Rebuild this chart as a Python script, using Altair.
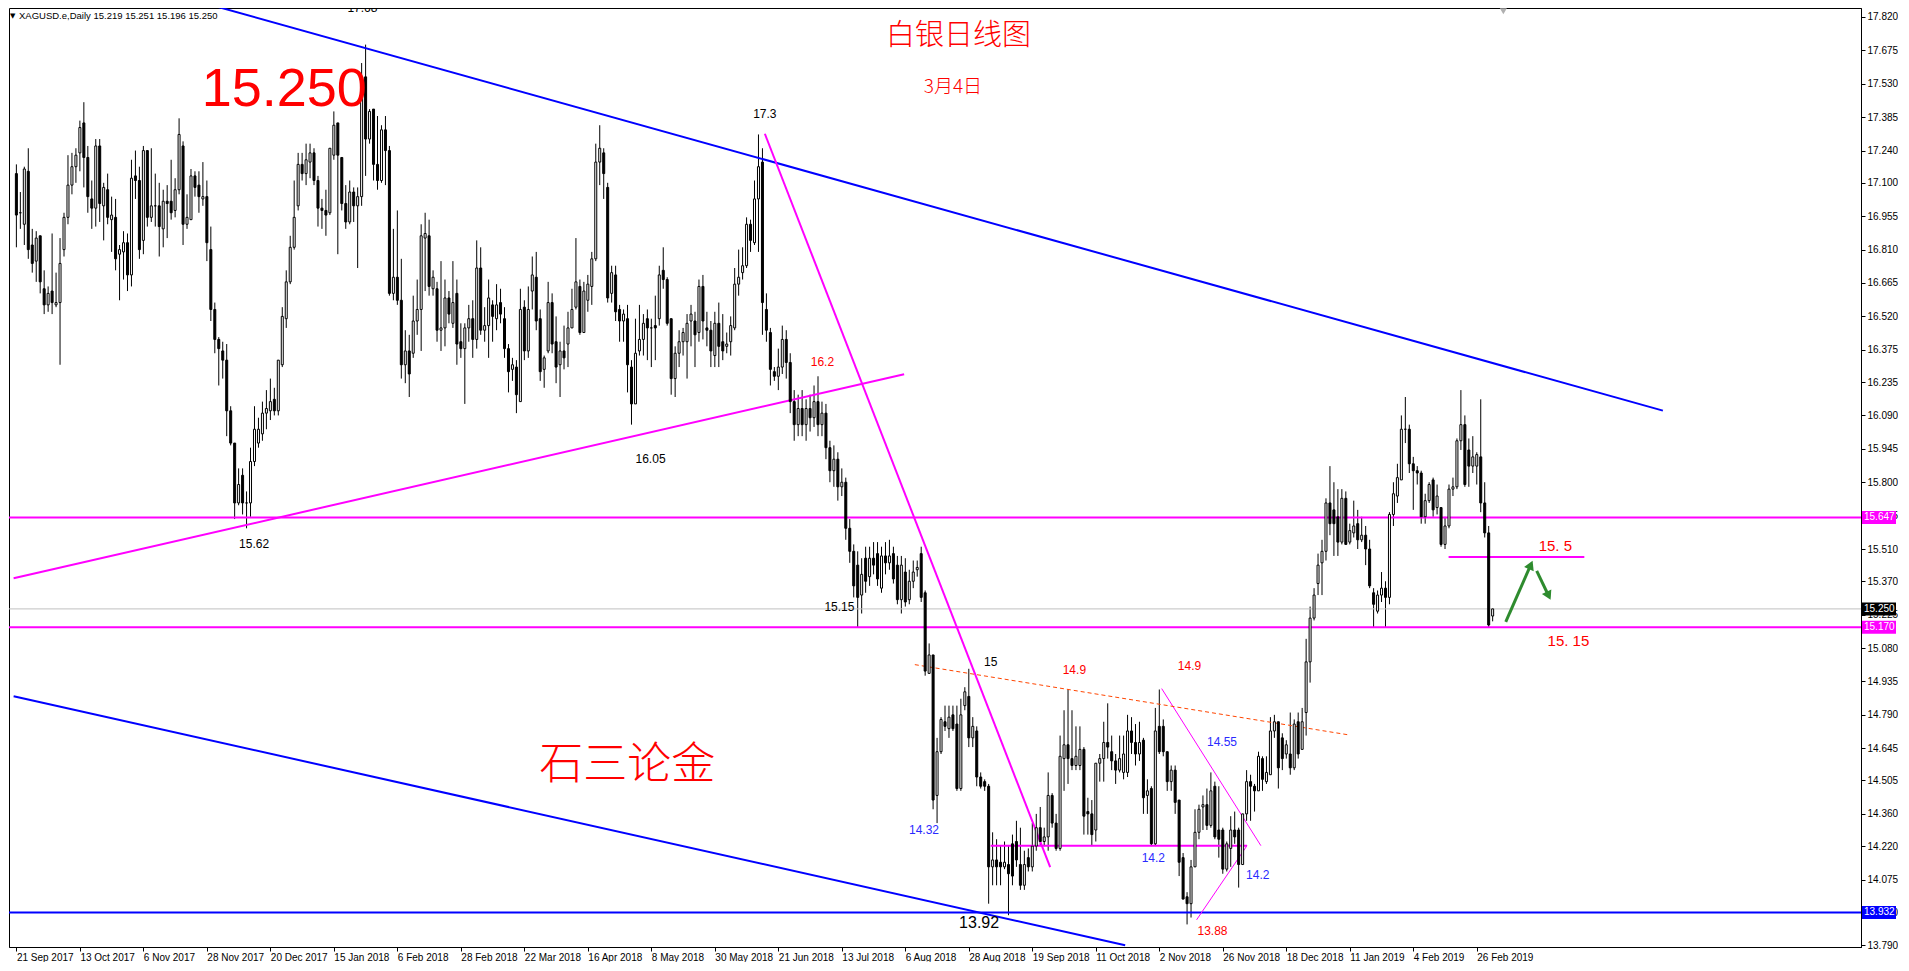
import altair as alt
import pandas as pd

# ---------------- candle data (XAGUSD daily) ----------------
opens = [
    17.14,16.97,16.92,17.15,16.83,16.76,16.87,16.64,16.57,16.63,
    16.57,16.58,16.81,16.95,17.09,17.17,17.23,17.36,17.21,17.03,
    16.99,17.26,17.00,17.07,16.94,16.95,16.79,16.80,16.84,16.70,
    17.13,17.11,16.85,17.24,16.95,17.00,17.00,16.90,17.02,17.02,
    16.98,17.07,17.26,16.92,16.94,17.13,17.09,17.03,17.04,16.81,
    16.55,16.42,16.37,16.33,16.11,15.97,15.71,15.83,15.71,15.71,
    15.89,15.97,16.01,16.10,16.11,16.16,16.11,16.31,16.51,16.67,
    16.82,17.00,17.18,17.14,17.19,17.23,17.11,16.99,16.98,16.97,
    17.22,17.36,17.21,17.01,16.93,17.06,17.00,17.04,17.56,17.29,
    17.42,17.18,17.11,17.33,17.24,16.62,16.69,16.59,16.31,16.37,
    16.36,16.50,16.55,16.86,16.87,16.64,16.64,16.46,16.47,16.60,
    16.49,16.62,16.41,16.38,16.47,16.51,16.42,16.73,16.46,16.48,
    16.57,16.51,16.58,16.51,16.38,16.29,16.30,16.15,16.56,16.37,
    16.63,16.69,16.51,16.29,16.37,16.58,16.41,16.31,16.37,16.40,
    16.47,16.56,16.65,16.45,16.59,16.65,16.77,17.19,17.23,17.08,
    16.62,16.70,16.55,16.50,16.51,16.30,16.14,16.37,16.42,16.51,
    16.47,16.48,16.51,16.72,16.68,16.51,16.25,16.36,16.41,16.41,
    16.50,16.50,16.45,16.65,16.47,16.46,16.35,16.49,16.41,16.39,
    16.41,16.47,16.66,16.71,16.74,16.92,16.84,17.03,17.19,16.55,
    16.45,16.28,16.26,16.30,16.42,16.32,16.15,16.05,16.12,16.05,
    16.12,16.08,16.15,16.05,16.10,15.95,15.85,15.90,15.78,15.80,
    15.60,15.50,15.44,15.31,15.47,15.39,15.47,15.49,15.34,15.48,
    15.45,15.49,15.44,15.29,15.41,15.29,15.37,15.42,15.49,15.32,
    14.97,15.05,14.44,14.63,14.76,14.73,14.79,14.75,14.47,14.83,
    14.87,14.69,14.72,14.52,14.50,14.48,14.13,14.16,14.15,14.13,
    14.14,14.23,14.24,14.14,14.05,14.17,14.13,14.22,14.30,14.24,
    14.26,14.44,14.32,14.21,14.60,14.66,14.60,14.57,14.57,14.64,
    14.37,14.36,14.29,14.58,14.60,14.67,14.63,14.59,14.55,14.54,
    14.54,14.72,14.67,14.62,14.68,14.44,14.47,14.23,14.74,14.74,
    14.63,14.50,14.55,14.42,14.17,14.00,13.97,14.13,14.28,14.39,
    14.40,14.31,14.48,14.29,14.29,14.12,14.21,14.29,14.29,14.14,
    14.36,14.50,14.48,14.46,14.60,14.50,14.53,14.72,14.76,14.69,
    14.62,14.62,14.56,14.76,14.64,14.80,15.02,15.21,15.36,15.45,
    15.50,15.71,15.68,15.65,15.54,15.73,15.54,15.58,15.62,15.55,
    15.57,15.51,15.32,15.24,15.31,15.34,15.30,15.66,15.74,15.81,
    16.03,16.03,15.88,15.85,15.84,15.65,15.72,15.81,15.69,15.69,
    15.53,15.61,15.77,15.78,15.98,16.05,15.94,15.87,15.87,15.91,
    15.71,15.58,15.219,
]
highs = [
    17.18,17.06,17.17,17.25,16.90,16.89,16.87,16.72,16.65,16.88,
    16.71,16.86,16.97,17.22,17.23,17.25,17.37,17.45,17.26,17.11,
    17.29,17.29,17.10,17.14,17.04,17.03,16.83,16.89,16.88,17.20,
    17.24,17.17,17.26,17.24,17.25,17.14,17.10,17.07,17.09,17.20,
    17.12,17.38,17.28,17.05,17.16,17.15,17.15,17.19,17.11,16.91,
    16.58,16.43,16.41,16.40,16.13,15.97,15.86,15.86,15.76,15.95,
    16.13,16.08,16.15,16.20,16.25,16.21,16.33,16.56,16.72,16.87,
    17.11,17.23,17.23,17.27,17.27,17.25,17.13,17.03,17.07,17.25,
    17.41,17.36,17.21,17.09,17.11,17.08,17.08,17.62,17.70,17.42,
    17.42,17.39,17.35,17.39,17.26,16.90,16.98,16.77,16.46,16.44,
    16.61,16.68,16.92,16.97,16.94,16.72,16.67,16.76,16.68,16.63,
    16.76,16.68,16.49,16.49,16.57,16.59,16.85,16.82,16.56,16.68,
    16.59,16.66,16.64,16.56,16.40,16.34,16.33,16.64,16.59,16.65,
    16.78,16.80,16.55,16.35,16.67,16.62,16.52,16.41,16.48,16.54,
    16.64,16.86,16.68,16.67,16.70,16.80,17.27,17.35,17.25,17.10,
    16.74,16.74,16.57,16.55,16.57,16.33,16.51,16.57,16.53,16.55,
    16.51,16.61,16.74,16.82,16.69,16.51,16.39,16.46,16.47,16.53,
    16.57,16.54,16.68,16.70,16.54,16.50,16.54,16.58,16.53,16.45,
    16.52,16.73,16.81,16.82,16.95,16.94,17.11,17.31,17.25,16.62,
    16.47,16.30,16.38,16.48,16.46,16.36,16.20,16.18,16.20,16.16,
    16.18,16.22,16.26,16.15,16.14,15.98,15.96,15.93,15.86,15.82,
    15.64,15.53,15.50,15.47,15.52,15.52,15.54,15.54,15.52,15.54,
    15.55,15.52,15.48,15.48,15.47,15.42,15.46,15.46,15.52,15.33,
    15.10,15.05,14.69,14.78,14.83,14.83,14.83,14.83,14.86,14.91,
    14.99,14.78,14.74,14.54,14.51,14.49,14.28,14.25,14.22,14.24,
    14.22,14.27,14.33,14.30,14.20,14.21,14.32,14.36,14.39,14.30,
    14.54,14.45,14.36,14.70,14.81,14.90,14.81,14.74,14.74,14.65,
    14.43,14.42,14.58,14.62,14.76,14.84,14.70,14.62,14.70,14.70,
    14.79,14.78,14.75,14.76,14.69,14.51,14.48,14.82,14.90,14.77,
    14.63,14.57,14.57,14.42,14.19,14.02,14.16,14.38,14.40,14.44,
    14.47,14.54,14.50,14.48,14.30,14.24,14.35,14.37,14.30,14.36,
    14.55,14.53,14.49,14.63,14.61,14.61,14.78,14.79,14.76,14.71,
    14.68,14.80,14.77,14.80,14.82,15.12,15.26,15.34,15.49,15.55,
    15.73,15.87,15.80,15.77,15.77,15.76,15.62,15.72,15.68,15.65,
    15.61,15.55,15.34,15.33,15.41,15.37,15.67,15.80,15.88,16.09,
    16.17,16.05,15.91,15.87,15.85,15.75,15.80,15.82,15.79,15.69,
    15.65,15.79,15.82,15.99,16.20,16.09,15.99,16.00,15.93,16.16,
    15.80,15.61,15.251,
]
lows = [
    16.82,16.90,16.83,16.77,16.71,16.67,16.62,16.53,16.54,16.53,
    16.56,16.31,16.78,16.92,17.05,17.10,17.15,17.08,16.97,16.90,
    16.91,16.93,16.85,16.92,16.80,16.72,16.59,16.68,16.63,16.65,
    17.03,16.77,16.79,16.91,16.93,16.91,16.78,16.82,16.86,16.94,
    16.95,17.05,16.83,16.90,16.94,17.04,16.97,17.00,16.76,16.50,
    16.36,16.22,16.25,16.00,15.96,15.64,15.70,15.66,15.60,15.65,
    15.87,15.95,15.98,16.03,16.07,16.09,16.09,16.30,16.47,16.66,
    16.81,16.98,17.11,17.09,17.12,17.09,16.91,16.90,16.87,16.96,
    17.20,16.79,16.98,16.90,16.92,16.93,16.73,17.00,17.13,17.27,
    17.11,17.07,17.10,17.09,16.61,16.59,16.57,16.25,16.23,16.17,
    16.34,16.44,16.37,16.63,16.61,16.61,16.41,16.37,16.39,16.49,
    16.47,16.31,16.34,16.14,16.41,16.34,16.38,16.44,16.41,16.34,
    16.41,16.46,16.49,16.34,16.19,16.24,16.10,16.15,16.33,16.34,
    16.55,16.46,16.24,16.21,16.36,16.36,16.23,16.17,16.29,16.30,
    16.47,16.55,16.44,16.45,16.54,16.57,16.76,17.09,17.03,16.58,
    16.58,16.50,16.41,16.41,16.19,16.05,16.14,16.35,16.35,16.33,
    16.30,16.33,16.48,16.64,16.48,16.18,16.17,16.30,16.35,16.25,
    16.39,16.30,16.41,16.42,16.39,16.30,16.30,16.30,16.33,16.36,
    16.35,16.46,16.61,16.68,16.73,16.80,16.83,16.80,16.44,16.41,
    16.22,16.24,16.20,16.27,16.25,16.10,15.98,16.00,16.00,15.98,
    16.02,16.04,16.00,16.00,15.90,15.80,15.78,15.72,15.74,15.55,
    15.45,15.30,15.17,15.23,15.32,15.35,15.40,15.35,15.32,15.40,
    15.42,15.36,15.27,15.23,15.26,15.27,15.34,15.39,15.28,14.96,
    14.97,14.38,14.32,14.62,14.72,14.69,14.72,14.46,14.46,14.81,
    14.65,14.65,14.48,14.47,14.46,13.97,14.05,14.05,14.05,14.12,
    13.92,14.05,14.13,14.03,14.03,14.11,14.11,14.20,14.22,14.22,
    14.20,14.30,14.20,14.20,14.46,14.49,14.55,14.55,14.55,14.27,
    14.27,14.22,14.24,14.50,14.50,14.60,14.55,14.49,14.54,14.51,
    14.52,14.62,14.57,14.59,14.36,14.36,14.22,14.22,14.62,14.61,
    14.46,14.46,14.36,14.09,13.99,13.88,13.91,14.13,14.25,14.29,
    14.29,14.30,14.25,14.17,14.10,14.11,14.13,14.23,14.04,14.14,
    14.33,14.33,14.37,14.46,14.46,14.49,14.53,14.69,14.47,14.55,
    14.60,14.53,14.55,14.60,14.64,14.70,14.93,15.20,15.31,15.31,
    15.46,15.57,15.48,15.48,15.53,15.53,15.53,15.56,15.51,15.54,
    15.44,15.34,15.17,15.23,15.28,15.17,15.27,15.61,15.71,15.81,
    15.97,15.84,15.68,15.79,15.62,15.62,15.71,15.65,15.66,15.52,
    15.51,15.60,15.74,15.77,15.94,15.78,15.78,15.84,15.79,15.67,
    15.56,15.17,15.196,
]
closes = [
    16.96,16.97,17.16,16.81,16.75,16.86,16.67,16.57,16.62,16.58,
    16.58,16.75,16.95,17.09,17.17,17.22,17.34,17.21,17.04,16.99,
    17.26,17.01,17.08,16.95,16.96,16.77,16.81,16.84,16.70,17.12,
    17.11,16.81,17.24,16.95,17.00,17.00,16.91,17.02,17.01,16.97,
    17.07,17.31,16.92,16.95,17.13,17.08,17.04,17.04,16.84,16.55,
    16.42,16.38,16.33,16.11,15.97,15.71,15.79,15.71,15.71,15.89,
    16.03,16.03,16.10,16.12,16.15,16.11,16.33,16.52,16.67,16.82,
    16.95,17.18,17.14,17.20,17.23,17.11,16.99,16.98,16.96,17.25,
    17.35,17.22,17.01,16.93,17.06,17.00,17.04,17.56,17.29,17.41,
    17.18,17.11,17.33,17.24,16.62,16.69,16.59,16.31,16.37,16.27,
    16.50,16.55,16.87,16.88,16.65,16.69,16.46,16.47,16.60,16.53,
    16.58,16.40,16.38,16.47,16.51,16.42,16.73,16.46,16.48,16.60,
    16.52,16.57,16.53,16.38,16.28,16.31,16.18,16.55,16.37,16.55,
    16.70,16.50,16.28,16.34,16.58,16.40,16.30,16.37,16.34,16.47,
    16.55,16.67,16.45,16.63,16.66,16.77,17.19,17.25,17.14,16.60,
    16.71,16.54,16.50,16.53,16.31,16.14,16.36,16.42,16.49,16.47,
    16.47,16.47,16.70,16.68,16.49,16.25,16.36,16.41,16.45,16.49,
    16.53,16.44,16.65,16.50,16.46,16.37,16.49,16.39,16.37,16.40,
    16.48,16.66,16.69,16.74,16.92,16.85,17.03,17.17,16.58,16.46,
    16.29,16.26,16.30,16.42,16.32,16.15,16.05,16.12,16.05,16.12,
    16.08,16.15,16.05,16.10,15.95,15.85,15.90,15.78,15.80,15.60,
    15.50,15.35,15.30,15.40,15.37,15.47,15.44,15.38,15.48,15.45,
    15.48,15.38,15.29,15.44,15.28,15.37,15.41,15.43,15.30,14.98,
    15.05,14.42,14.63,14.77,14.74,14.78,14.73,14.47,14.79,14.89,
    14.69,14.74,14.52,14.48,14.48,14.13,14.16,14.13,14.13,14.15,
    14.10,14.09,14.16,14.05,14.14,14.13,14.22,14.30,14.24,14.26,
    14.44,14.32,14.21,14.61,14.66,14.60,14.57,14.61,14.64,14.35,
    14.36,14.27,14.58,14.60,14.67,14.65,14.59,14.55,14.60,14.62,
    14.72,14.67,14.62,14.67,14.43,14.46,14.23,14.72,14.63,14.63,
    14.50,14.55,14.41,14.15,13.99,13.97,14.13,14.28,14.38,14.40,
    14.31,14.46,14.26,14.25,14.12,14.23,14.29,14.26,14.14,14.36,
    14.50,14.48,14.46,14.61,14.51,14.54,14.72,14.76,14.56,14.60,
    14.66,14.56,14.75,14.62,14.76,15.02,15.21,15.31,15.44,15.50,
    15.71,15.62,15.62,15.54,15.73,15.53,15.59,15.61,15.55,15.57,
    15.51,15.35,15.27,15.31,15.34,15.30,15.66,15.75,15.82,16.03,
    16.03,15.88,15.85,15.84,15.65,15.72,15.79,15.68,15.74,15.53,
    15.61,15.77,15.78,15.98,16.05,15.79,15.87,15.91,15.92,15.71,
    15.58,15.18,15.250,
]

# ---------------- axes ----------------
date_labels = [
    "21 Sep 2017", "13 Oct 2017", "6 Nov 2017", "28 Nov 2017", "20 Dec 2017",
    "15 Jan 2018", "6 Feb 2018", "28 Feb 2018", "22 Mar 2018", "16 Apr 2018",
    "8 May 2018", "30 May 2018", "21 Jun 2018", "13 Jul 2018", "6 Aug 2018",
    "28 Aug 2018", "19 Sep 2018", "11 Oct 2018", "2 Nov 2018", "26 Nov 2018",
    "18 Dec 2018", "11 Jan 2019", "4 Feb 2019", "26 Feb 2019",
]
bars_per_label = 16
price_ticks = [
    17.820, 17.675, 17.530, 17.385, 17.240, 17.100, 16.955, 16.810, 16.665,
    16.520, 16.375, 16.235, 16.090, 15.945, 15.800, 15.655, 15.510, 15.370,
    15.225, 15.080, 14.935, 14.790, 14.645, 14.505, 14.360, 14.220, 14.075,
    13.930, 13.790,
]
x_domain = [-0.6, 463.56]
y_domain = [13.782, 17.859]

# ---------------- drawn objects (bar index, price) ----------------
magenta_levels = [15.647, 15.170]
blue_levels = [13.932]
bid_levels = [15.250]

blue_x1 = [44.5, -0.7]
blue_y1 = [17.894, 14.871]
blue_x2 = [414.9, 279.4]
blue_y2 = [16.111, 13.79]

mag_x1 = [-0.7, 188.6, 245.5, 360.9]
mag_y1 = [15.383, 17.313, 14.222, 15.475]
mag_x2 = [223.7, 260.5, 310.1, 395.1]
mag_y2 = [16.269, 14.129, 14.222, 15.475]

thin_x1 = [288.6, 297.4]
thin_y1 = [14.904, 13.90]
thin_x2 = [313.6, 310.1]
thin_y2 = [14.222, 14.222]

dash_x1 = [226.4]
dash_y1 = [15.008]
dash_x2 = [335.7]
dash_y2 = [14.703]

arrow_up = [375.3, 15.194, 381.6, 15.441]
arrow_down = [383.1, 15.415, 386.1, 15.307]

black_notes = ["17.3", "16.05", "15.62", "15.15", "15"]
black_note_x = [188.6, 159.8, 59.9, 207.4, 245.5]
black_note_y = [17.398, 15.90, 15.53, 15.26, 15.02]

red_notes = ["16.2", "14.9", "14.9", "13.88"]
red_note_x = [203.1, 266.6, 295.6, 301.4]
red_note_y = [16.322, 14.985, 15.00, 13.853]

blue_notes = ["14.32", "14.55", "14.2", "14.2"]
blue_note_x = [228.7, 303.8, 286.5, 312.8]
blue_note_y = [14.29, 14.673, 14.168, 14.094]

big_note = ["13.92"]
big_note_x = [242.6]
big_note_y = [13.886]

top_note = ["17.68"]
top_note_x = [87.2]
top_note_y = [17.859]

level_notes = ["15. 5", "15. 15"]
level_note_x = [387.8, 391.1]
level_note_y = [15.525, 15.109]

shift_marker_x = [374.7]
shift_marker_y = [17.845]

# ---------------- style ----------------
W, H = 1852, 939
SANS = "Liberation Sans, Arial, sans-serif"
CJK = "Noto Sans CJK SC"
MAGENTA = "#ff00ff"
BLUE = "#0000ff"
RED = "#ff0000"
LBLUE = "#2a2aff"
GREEN = "#2e8b2e"

xs = alt.Scale(domain=x_domain, nice=False, zero=False)
ys = alt.Scale(domain=y_domain, nice=False, zero=False)

label_js = "[" + ",".join("'" + s + "'" for s in date_labels) + "]"
x_axis = alt.Axis(
    values=[bars_per_label * k for k in range(len(date_labels))],
    labelExpr=label_js + "[round(datum.value / " + str(bars_per_label) + ")]",
    labelAlign="left", labelBaseline="top", labelPadding=1, tickSize=4,
    labelFont=SANS, labelFontSize=10, labelColor="black",
    tickColor="black", domainColor="black", grid=False, title=None,
    labelFlush=False, labelOverlap=False, labelBound=False,
)
y_axis = alt.Axis(
    orient="right", values=price_ticks, format=".3f", tickSize=4, labelPadding=2,
    labelFont=SANS, labelFontSize=10, labelColor="black", tickColor="black",
    domainColor="black", grid=False, title=None, labelFlush=False,
    labelOverlap=False, labelBound=False,
)


def X(field):
    return alt.X(field, scale=xs, axis=x_axis)


def Y(field):
    return alt.Y(field, scale=ys, axis=y_axis)


candles = pd.DataFrame({"i": range(len(closes)), "o": opens, "h": highs,
                        "l": lows, "c": closes})

wicks = alt.Chart(candles).mark_rule(color="black", strokeWidth=1).encode(
    x=X("i:Q"), y=Y("l:Q"), y2="h:Q")
bodies = alt.Chart(candles).mark_bar(size=2, stroke="black", strokeWidth=1,
                                     orient="vertical").encode(
    x=X("i:Q"), y=Y("o:Q"), y2="c:Q",
    fill=alt.condition("datum.c >= datum.o", alt.value("white"), alt.value("black")),
)


def hline(levels, color, width):
    df = pd.DataFrame({"p": levels})
    return alt.Chart(df).mark_rule(color=color, strokeWidth=width).encode(y=Y("p:Q"))


def segs(x1, y1, x2, y2, color, width, dash=None):
    df = pd.DataFrame({"x1": x1, "y1": y1, "x2": x2, "y2": y2})
    kw = dict(color=color, strokeWidth=width, clip=True)
    if dash:
        kw["strokeDash"] = dash
    return alt.Chart(df).mark_rule(**kw).encode(
        x=X("x1:Q"), y=Y("y1:Q"), x2="x2:Q", y2="y2:Q")


def notes(texts, xv, yv, color, size, font=SANS, clip=True, weight="normal"):
    df = pd.DataFrame({"t": texts, "x": xv, "y": yv})
    return alt.Chart(df).mark_text(color=color, fontSize=size, font=font,
                                   fontWeight=weight, align="center",
                                   baseline="middle", clip=clip).encode(
        x=X("x:Q"), y=Y("y:Q"), text="t:N")


def arrow(a, angle):
    df = pd.DataFrame({"x1": [a[0]], "y1": [a[1]], "x2": [a[2]], "y2": [a[3]]})
    shaft = alt.Chart(df).mark_rule(color=GREEN, strokeWidth=3).encode(
        x=X("x1:Q"), y=Y("y1:Q"), x2="x2:Q", y2="y2:Q")
    head = alt.Chart(df).mark_point(shape="triangle-up", filled=True, size=110,
                                    color=GREEN, opacity=1, angle=angle).encode(
        x=X("x2:Q"), y=Y("y2:Q"))
    return shaft + head


# price boxes on the right axis
box_levels = magenta_levels + bid_levels + blue_levels
box_colors = [MAGENTA, MAGENTA, "black", BLUE]
box_df = pd.DataFrame({"p": box_levels, "col": box_colors})
boxes = alt.Chart(box_df).mark_tick(orient="horizontal", size=34, thickness=13,
                                    opacity=1).encode(
    x=alt.value(W + 18),
    y=Y("p:Q"),
    color=alt.Color("col:N", scale=None, legend=None),
)
box_text = alt.Chart(box_df).mark_text(align="left", baseline="middle", color="white",
                                       fontSize=10, font=SANS).encode(
    x=alt.value(W + 3),
    y=Y("p:Q"),
    text=alt.Text("p:Q", format=".3f"),
)

header_df = pd.DataFrame({"t": ["XAGUSD.e,Daily  15.219 15.251 15.196 15.250"]})
header = alt.Chart(header_df).mark_text(align="left", baseline="middle", fontSize=9.5,
                                        font=SANS, color="black").encode(
    x=alt.value(10), y=alt.value(8), text="t:N")
tri = alt.Chart(pd.DataFrame({"t": ["▼"]})).mark_text(
    align="left", baseline="middle", fontSize=7, font="DejaVu Sans",
    color="black").encode(x=alt.value(1), y=alt.value(8), text="t:N")

shift_marker = alt.Chart(pd.DataFrame({"x": shift_marker_x, "y": shift_marker_y})).mark_point(
    shape="triangle-down", filled=True, size=50, color="#b0b0b0", opacity=1).encode(
    x=X("x:Q"), y=Y("y:Q"))

title_cn = notes(["白银日线图"], [237.4], [17.736], RED, 29, CJK, weight=300)
date_cn = notes(["3月4日"], [236.0], [17.514], RED, 19, CJK, weight=300)
brand_cn = notes(["石三论金"], [153.9], [14.57], RED, 44, CJK, weight=300)
big_price = notes(["15.250"], [67.5], [17.504], RED, 54, SANS)

chart = alt.layer(
    wicks,
    hline(bid_levels, "#c0c0c0", 1),
    hline(magenta_levels, MAGENTA, 2),
    hline(blue_levels, BLUE, 2),
    segs(blue_x1, blue_y1, blue_x2, blue_y2, BLUE, 2),
    segs(mag_x1, mag_y1, mag_x2, mag_y2, MAGENTA, 2),
    segs(thin_x1, thin_y1, thin_x2, thin_y2, MAGENTA, 1),
    segs(dash_x1, dash_y1, dash_x2, dash_y2, "#ff4500", 1, [4, 3]),
    bodies,
    arrow(arrow_up, 24),
    arrow(arrow_down, 154),
    notes(black_notes, black_note_x, black_note_y, "black", 12),
    notes(red_notes, red_note_x, red_note_y, RED, 12),
    notes(blue_notes, blue_note_x, blue_note_y, LBLUE, 12),
    notes(big_note, big_note_x, big_note_y, "black", 16),
    notes(top_note, top_note_x, top_note_y, "black", 12),
    notes(level_notes, level_note_x, level_note_y, RED, 15),
    title_cn, date_cn, brand_cn, big_price, shift_marker,
    boxes, box_text, header, tri,
).properties(
    width=W, height=H, padding=0, background="white",
).configure_view(stroke="black", strokeWidth=1)

chart.save("out.html", embed_options={"renderer": "svg", "actions": False})
